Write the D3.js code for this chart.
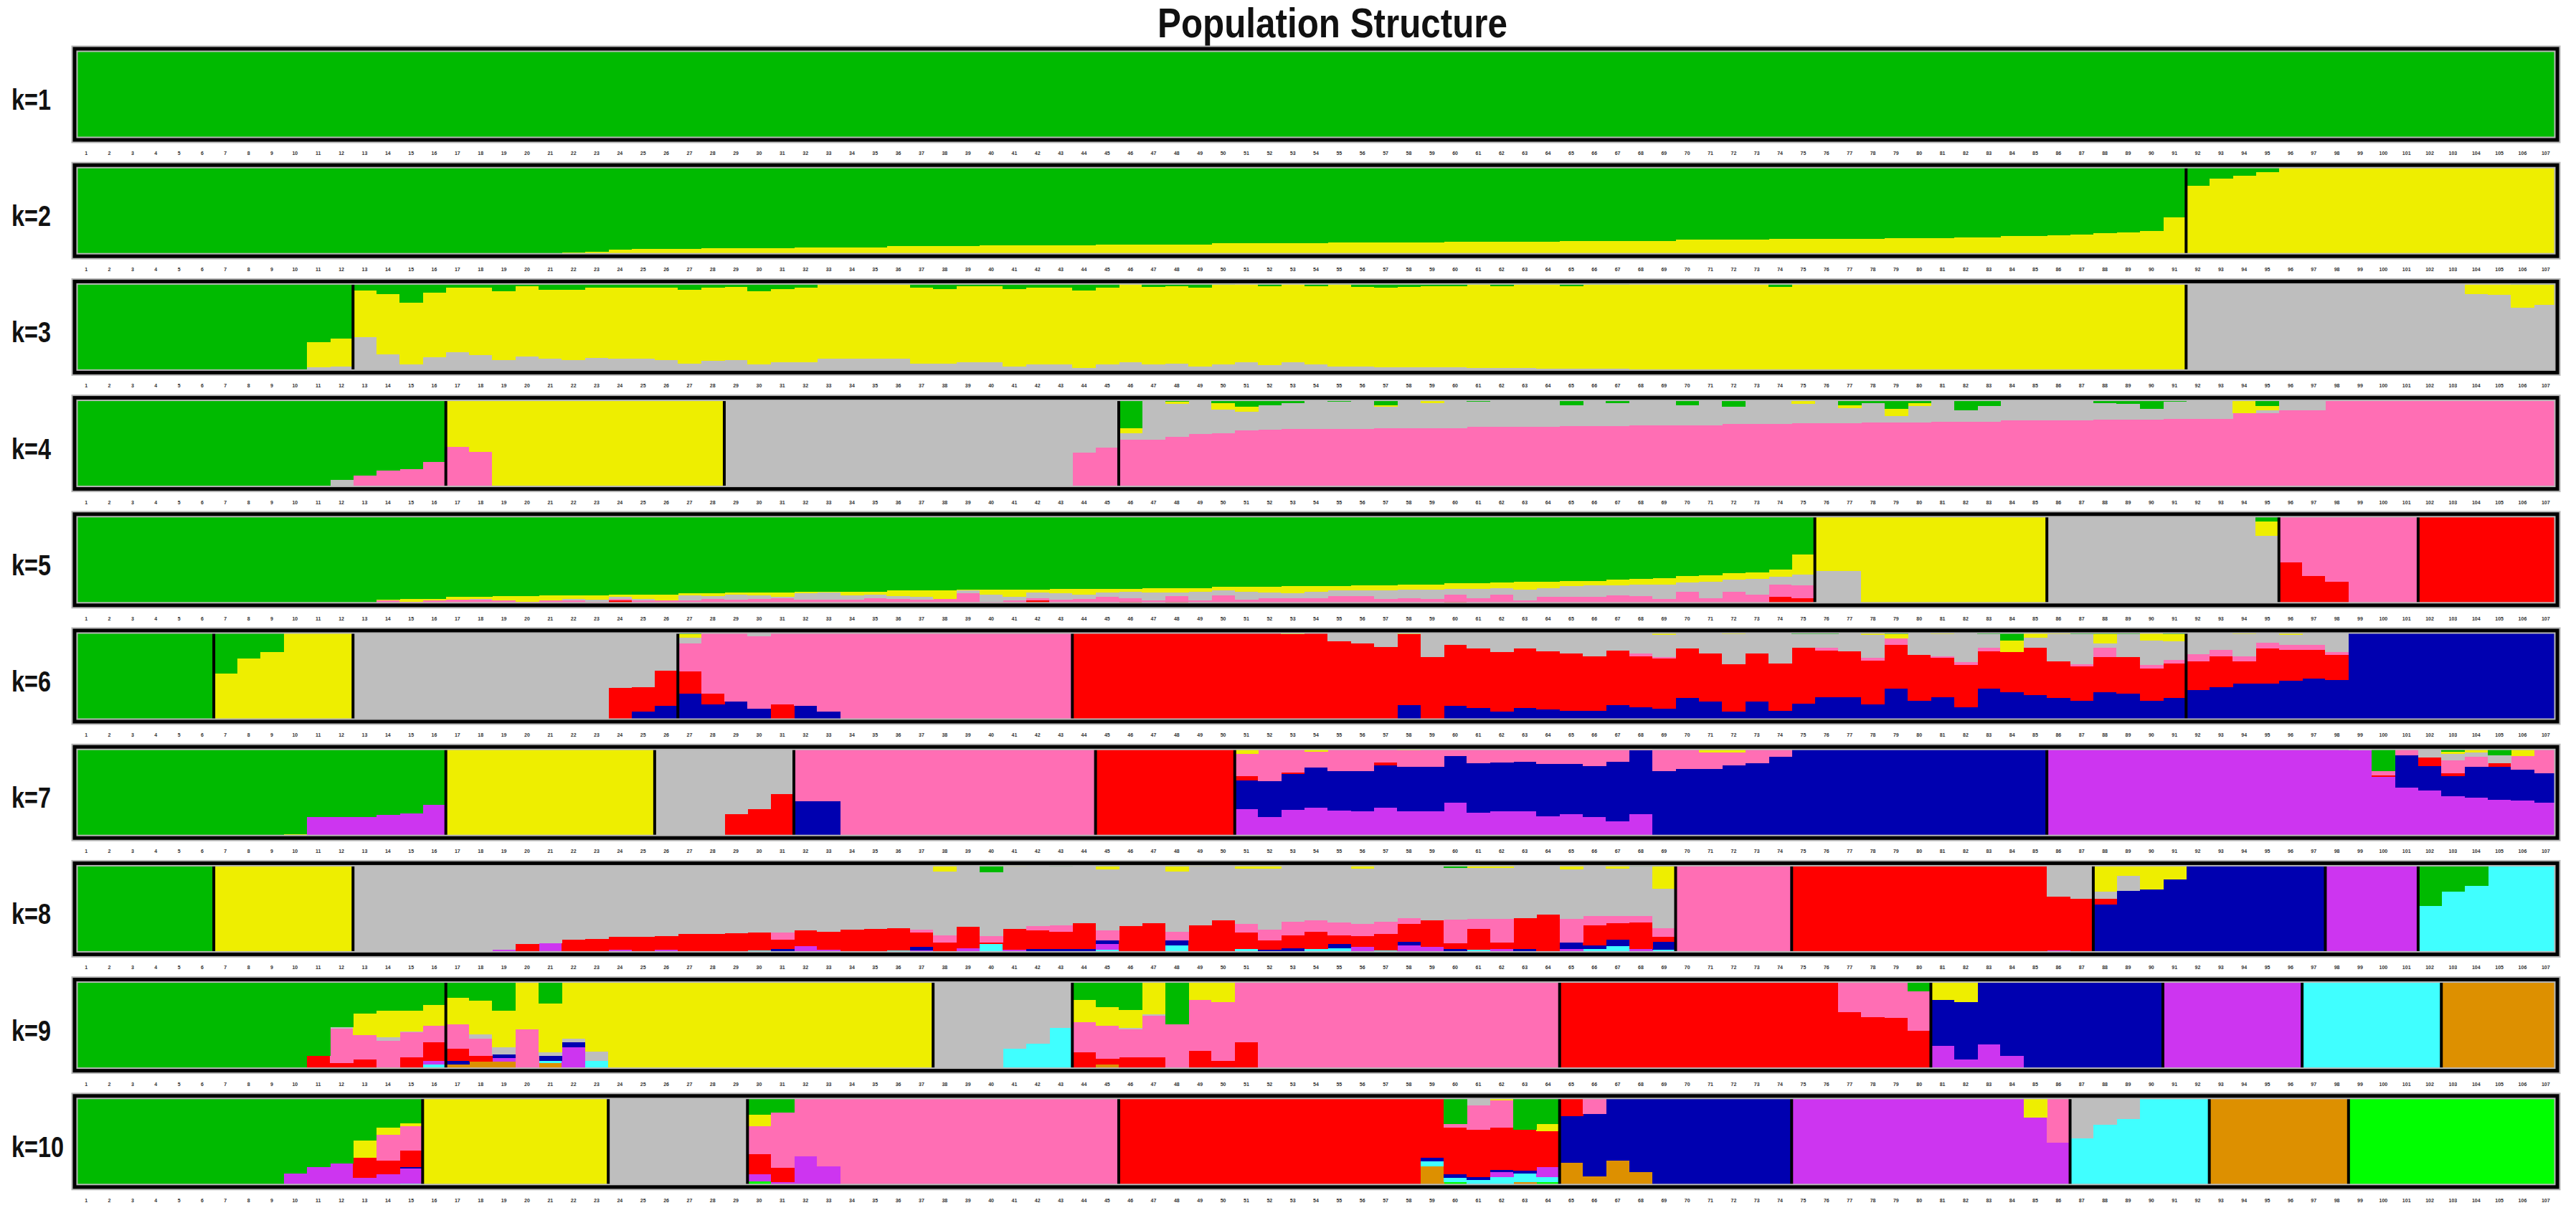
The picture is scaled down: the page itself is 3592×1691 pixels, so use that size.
<!DOCTYPE html>
<html>
<head>
<meta charset="utf-8">
<script src="https://cdn.jsdelivr.net/npm/d3@7"></script>
<style>
  body { margin: 0; background: #fff; }
  svg { display: block; }
  .klabel, .title { font-family: "Liberation Sans Narrow", "Arial Narrow", "Liberation Sans", Arial, sans-serif; font-weight: bold; fill: #111; }
  .sample { font-family: "Liberation Sans", Arial, sans-serif; fill: #333; }
</style>
</head>
<body>
<svg id="chart"></svg>
<script>
/////////////
// DATA    //
/////////////

// cluster codes, top of the stack first
let clusterKeys = ["G", "Y", "A", "P", "R", "B", "V", "C", "O", "L"];
let clusterColors = ["#00ba00", "#eeee00", "#bebebe", "#ff6eb4", "#ff0000", "#0000b0", "#cd35f0", "#40ffff", "#dd9000", "#00ff00"];
let kLabels = ["k=1", "k=2", "k=3", "k=4", "k=5", "k=6", "k=7", "k=8", "k=9", "k=10"];
let nSamples = 107;

// group sizes (black separators) per K
let groupsK1 = [107];
let groupsK2 = [91, 16];
let groupsK3 = [12, 79, 16];
let groupsK4 = [16, 12, 17, 62];
let groupsK5 = [75, 10, 10, 6, 6];
let groupsK6 = [6, 6, 14, 17, 48, 16];
let groupsK7 = [16, 9, 6, 13, 6, 35, 22];
let groupsK8 = [6, 6, 57, 5, 13, 10, 4, 6];
let groupsK9 = [16, 21, 6, 21, 16, 10, 6, 6, 5];
let groupsK10 = [15, 8, 6, 16, 19, 10, 12, 6, 6, 9];

// membership per individual: "n*X" = n pure individuals, "X,Y12" = Y 12%, rest X
let qK1 = ["107*G"];
let qK2 = ["17*G", "G,Y1", "G,Y1", "G,Y2", "G,Y3", "G,Y4", "G,Y5", "G,Y7", "G,Y8",
  "G,Y8", "G,Y8", "G,Y9", "G,Y9", "G,Y9", "G,Y9", "G,Y10", "G,Y10", "G,Y10", "G,Y10",
  "G,Y11", "G,Y11", "G,Y11", "G,Y11", "G,Y12", "G,Y12", "G,Y12", "G,Y12", "G,Y12", "G,Y13",
  "G,Y13", "G,Y13", "G,Y13", "G,Y13", "G,Y14", "G,Y14", "G,Y14", "G,Y14", "G,Y14", "G,Y15",
  "G,Y15", "G,Y15", "G,Y15", "G,Y15", "G,Y16", "G,Y16", "G,Y16", "G,Y16", "G,Y16", "G,Y17",
  "G,Y17", "G,Y17", "G,Y17", "G,Y17", "G,Y18", "G,Y18", "G,Y18", "G,Y18", "G,Y19", "G,Y19",
  "G,Y19", "G,Y19", "G,Y19", "G,Y20", "G,Y20", "G,Y20", "G,Y21", "G,Y21", "G,Y22", "G,Y22",
  "G,Y23", "G,Y24", "G,Y25", "G,Y26", "G,Y28", "G,Y43",
  "Y,G23", "Y,G15", "Y,G12", "Y,G8", "12*Y"];
let qK3 = ["10*G", "G,Y27,A6", "G,Y30,A7",
  "Y,G10,A39", "Y,G14,A20", "Y,G23,A9", "Y,G12,A17", "Y,G7,A22", "Y,G7,A19", "Y,G11,A14",
  "Y,G5,A18", "Y,G9,A15", "Y,G9,A14", "Y,G7,A16", "Y,G7,A15", "Y,G7,A15", "Y,G7,A14",
  "Y,G9,A10", "Y,G7,A13", "Y,G6,A14", "Y,G11,A9", "Y,G8,A11", "Y,G7,A11", "Y,G4,A15",
  "Y,G4,A15", "Y,G4,A15", "Y,G4,A15", "Y,G7,A10", "Y,G8,A10", "Y,G5,A11", "Y,G5,A11",
  "Y,G8,A7", "Y,G7,A9", "Y,G7,A9", "Y,G10,A5", "Y,G7,A9", "Y,G3,A11", "Y,G6,A9",
  "Y,G5,A10", "Y,G7,A7", "Y,G4,A9", "Y,G1,A11", "Y,G5,A8", "Y,G2,A11", "Y,G5,A9",
  "Y,G4,A7", "Y,G6,A7", "Y,G7,A6", "Y,G6,A6", "Y,G5,A6", "Y,G5,A6", "Y,G4,A5",
  "Y,G5,A5", "Y,G4,A5", "Y,G4,A4", "Y,G5,A4", "Y,G4,A4", "Y,G4,A4", "Y,G3,A3",
  "Y,G3,A3", "Y,G3,A3", "Y,G3,A3", "Y,G3,A3", "Y,G3,A2", "Y,G6,A1", "Y,G1,A1", "16*Y",
  "12*A", "A,Y14", "A,Y15", "A,G4,Y25", "A,G4,Y22"];
let qK4 = ["11*G", "G,A10", "G,P15", "G,P20", "G,P22", "G,P30",
  "Y,P46", "Y,P41", "10*Y",
  "15*A", "A,P40", "A,G2,P45",
  "A,G33,Y6,P54", "A,P54", "A,G4,Y3,P57", "A,P60", "A,G6,Y7,P61", "A,G10,Y5,P64",
  "A,G8,P65", "A,G6,P66", "A,P66", "A,G4,P66", "A,P66", "A,G8,Y2,P67", "A,P67",
  "A,G3,Y3,P67", "A,P67", "A,G4,P68", "A,P68", "A,Y3,P68", "A,P68", "A,G8,P69",
  "A,P69", "A,G6,P69", "A,P70", "A,P70", "A,G8,P70", "A,P70", "A,G10,P71", "A,P71",
  "A,P71", "A,G2,Y5,P72", "A,P72", "A,G8,Y3,P72", "A,G6,P73", "A,G12,Y8,P73",
  "A,G6,Y3,P73", "A,P74", "A,G14,P74", "A,G9,P74", "A,P75", "A,P75", "A,P75", "A,P75",
  "A,G6,P76", "A,G7,P76", "A,G12,P76", "A,G4,P77", "A,P77", "A,P77", "P,Y17",
  "P,G9,Y5,A3", "P,A14", "P,A14", "P,Y2", "P,Y2", "8*P"];
let qK5 = ["11*G", "G,P1", "G,P2,R1", "G,Y1,P4,R1", "G,Y3,P3,R1", "G,Y2,P5", "G,Y3,P6",
  "G,Y2,A1,P3,R3", "G,Y5,P5", "G,Y6,P4", "G,Y6,P4,R1", "G,Y4,A2,P3,R2", "G,Y5,A2,P4",
  "G,Y3,A2,P2,R5", "G,Y5,A2,P3,R2", "G,Y7,P5", "G,Y2,A6,P5", "G,Y3,A3,P6,R1",
  "G,Y2,A6,P4,R2", "G,Y3,A4,P4,R3", "G,Y5,A1,P8", "G,Y2,A7,P6", "G,Y1,A8,P6",
  "G,Y4,A5,P6", "G,Y3,A4,P5,R3", "G,Y6,A3,P4,R3", "G,Y7,A3,P5,R1", "G,Y9,P5,R2",
  "G,Y1,A3,P10,R3", "G,Y5,A8,P4", "G,Y8,A4,P3,R2", "G,Y3,A6,P3,R5", "G,Y5,A7,P6",
  "G,Y6,A5,P5,R2", "G,Y4,A5,P8,R1", "G,Y3,A7,P4,R4", "G,Y5,A9,P4,R1", "G,Y5,A4,P6,R4",
  "G,Y4,A10,P5", "G,Y4,A5,P9,R2", "G,Y5,A9,P5,R1", "G,Y6,A6,P5,R3", "G,Y8,A5,P6,R2",
  "G,Y6,A7,P5,R3", "G,Y5,A6,P8,R2", "G,Y6,A6,P7,R3", "G,Y6,A9,P5,R2", "G,Y6,A9,P6,R2",
  "G,Y6,A10,P5,R2", "G,Y6,A6,P8,R4", "G,Y6,A10,P6,R2", "G,Y6,A7,P9,R3", "G,Y9,A12,P4,R1",
  "G,Y7,A10,P7,R2", "G,Y6,A12,P7,R2", "G,Y5,A13,P6,R3", "G,Y6,A11,P8,R3", "G,Y6,A13,P7,R3",
  "G,Y7,A16,P5,R2", "G,Y7,A10,P13,R2", "G,Y7,A18,P6,R2", "G,Y7,A13,P12,R3",
  "G,Y7,A17,P10,R2", "G,Y8,A8,P14,R9", "G,Y22,A12,P14,R8",
  "Y,A38", "Y,A38", "8*Y",
  "9*A", "A,G8,Y16",
  "P,R47", "P,R32", "P,R26", "3*P",
  "6*R"];
let qK6 = ["6*G",
  "Y,G47", "Y,G31", "Y,G24", "3*Y",
  "11*A", "A,R37", "A,Y3,R27,B11", "A,R39,B17",
  "P,G4,Y4,A6,R24,B31", "P,G2,R12,B19", "P,B22", "P,A6,B14", "P,R19", "P,B17", "P,B11", "10*P",
  "9*R", "R,Y4", "R,Y3", "R,A12", "R,A14", "R,A18", "R,Y4,B18", "R,A29", "R,A16,B17",
  "R,G2,A18,B15", "R,A24,B11", "R,A20,B15", "R,A23,B13", "R,Y2,A23,B12", "R,A28,B12",
  "R,A22,B18", "R,A25,P3,B16", "R,Y5,A24,P2,B14", "R,A20,B26", "R,A25,B22",
  "R,Y4,A33,B11", "R,A25,B22", "R,A36,B12", "R,G4,A15,B20", "R,G4,A15,P3,B27",
  "R,A23,B27", "R,G2,Y3,A25,P3,B19", "R,G4,Y5,P7,B36", "R,A27,B23", "R,Y4,A24,P2,B27",
  "R,A35,P3,B16", "R,G4,A15,P4,B36", "R,G11,Y13,B32", "R,Y8,A11,B29", "R,Y4,A30,B26",
  "R,G4,A33,P2,B23", "R,G4,Y10,A5,P10,B32", "R,G4,A25,B31", "R,Y11,A27,P4,B23",
  "R,G4,Y8,A20,P4,B26",
  "B,Y3,A23,P8,R31", "B,A21,P7,R34", "B,Y4,A24,P6,R24", "B,A13,P7,R38",
  "B,Y5,A11,P5,R34", "B,G2,A14,P5,R32", "B,Y3,A21,P3,R27", "9*B"];
let qK7 = ["9*G", "G,Y4", "G,V23", "G,V23", "G,V23", "G,V25", "G,V27", "G,V36",
  "9*Y",
  "3*A", "A,R26", "A,R32", "A,R48",
  "P,G2,B40", "P,B40", "11*P",
  "6*R",
  "B,G1,Y7,P24,R5,V32", "B,P38,V23", "B,G1,P27,R2,V31", "B,Y5,P18,V33", "B,P27,V30",
  "B,P27,V29", "B,Y2,P15,R3,V33", "B,Y4,P18,V29", "B,P22,V29", "B,P10,V39",
  "B,Y2,P16,V28", "B,Y3,P14,V29", "B,Y3,P13,V29", "B,G1,P18,V24", "B,P19,V26",
  "B,A3,P18,V23", "B,P16,V18", "B,P4,V26", "B,P27", "B,P24", "B,Y6,P18", "B,Y6,P14",
  "B,P18", "B,P11", "B,P2", "10*B",
  "13*V", "V,A4", "V,G27,P4,R2", "V,P9,B36", "V,A12,R9,B27", "V,G5,Y3,A7,P14,R3,B22",
  "V,Y6,A5,P11,B34", "V,G9,A9,R4,B36", "V,Y10,P15,B34", "V,G2,P27,B32"];
let qK8 = ["6*G", "6*Y",
  "6*A", "A,V5", "A,R11", "A,V12", "A,R13,V3", "A,R17", "A,R14,V5", "A,R19", "A,R15,V5",
  "A,R22", "A,R22", "A,R23", "A,R20,C4", "A,G3,P8,R10,B6", "A,R17,V9", "A,R20,V5",
  "A,R27", "A,R28", "A,R25,C4", "A,P3,R16,B4,V4", "A,G1,Y8,P8,R10,V3", "A,R23,V7",
  "A,G10,P7,R2,C11", "A,Y4,R23,V5", "A,P5,R20,B6", "A,G4,P7,R19,B6", "A,R28,B6",
  "A,G4,Y3,P11,B4,V6,C5", "A,R31", "A,R34", "A,G4,Y5,P10,B5,C10", "A,Y4,R32", "A,R37",
  "A,G3,Y3,P9,R18,C6", "A,Y6,P12,R10,B5", "A,G3,P15,R14,B7", "A,Y3,P12,R19,C6",
  "A,Y3,P14,R10,B4,C7", "A,Y6,P13,R12,V5,C3", "A,Y3,P14,R18,C4", "A,P7,R19,B4,V7,C3",
  "A,R29,V5,C3", "A,G5,P26,R6,B6", "A,Y5,P11,R23,C5", "A,Y5,P26,R7,V6", "A,G3,R34,B6",
  "A,R44", "A,Y7,P26,B7,V6", "A,P10,R22,B4,C6", "A,G3,Y3,P8,R18,B7,C9", "A,G4,P7,R29,V6",
  "A,G4,Y24,P10,R5,B9,C5",
  "5*P",
  "11*R", "R,A37,V4", "R,A39,C3",
  "B,Y31,A8,R6", "B,Y14,A16", "B,Y29", "B,Y18", "6*B",
  "4*V",
  "C,G47", "C,G31", "C,G25", "3*C"];
let qK9 = ["10*G", "G,R16", "G,A2,P38,R8", "G,Y24,P27,R12", "G,Y29,A4,P29,O4",
  "G,Y23,A1,P27,R12,O3", "G,Y23,P18,R20,V4,C3,O4",
  "Y,G20,P27,R13,B4,O7", "Y,G23,A5,P19,R6,O10", "Y,G34,A8,B4,V4,O10", "Y,P45",
  "Y,G26,A4,B5,C3,O8", "Y,A4,B5,V23,C3", "Y,A10,C11", "14*Y",
  "3*A", "A,C24", "A,C30", "A,C47",
  "P,G22,Y25,R20", "P,G30,Y21,R6,O7", "P,G33,Y20,A2,R15", "P,Y38,A2,R15", "P,G49",
  "P,Y22,R22", "P,Y25,R7,B4", "P,R31", "13*P",
  "12*R", "R,P36", "R,P41", "R,P42", "R,G13,P43,O3",
  "B,Y22,V27", "B,Y25,V12", "B,V29", "B,V16", "6*B",
  "6*V", "6*C", "5*O"];
let qK10 = ["9*G", "G,V15", "G,V22", "G,V26", "G,Y19,R22,V10", "G,Y8,P28,R15,V14",
  "G,Y3,P27,R18,B2,V16,C4",
  "8*Y", "6*A",
  "P,G21,Y12,R22,V8,L6", "P,G18,R16,V5", "P,V34", "P,V23", "12*P",
  "13*R", "R,A3,B4,C5,O23", "R,G31,P4,B4,C5,L5", "R,A10,P27,B3,C8",
  "R,Y5,P30,B3,V5,C8,L3", "R,G37,B3,C10,O5", "R,G31,Y8,V11,C6,L5",
  "B,R22,O27", "B,P20,O12", "B,O29", "B,O16", "6*B",
  "10*V", "V,Y24", "V,P51",
  "C,A47", "C,A32", "C,A25", "3*C",
  "6*O", "9*L"];

let qAll = [qK1, qK2, qK3, qK4, qK5, qK6, qK7, qK8, qK9, qK10];
let groupsAll = [groupsK1, groupsK2, groupsK3, groupsK4, groupsK5, groupsK6, groupsK7, groupsK8, groupsK9, groupsK10];

/////////////
// LAYOUT  //
/////////////

let width = 3592, height = 1691;
let plotLeft = 104, plotRight = 3566;
let firstTop = 68, panelStep = 162.2, panelH = 127;

let svg, x;

init();

function parseRow(tok, keys) {
  let row = {};
  keys.forEach(k => row[k] = 0);
  let rest = null, sum = 0;
  tok.split(",").forEach(p => {
    let m = /^([A-Z])(\d*)$/.exec(p);
    if (m[2] === "") {
      rest = m[1];
    } else {
      row[m[1]] += +m[2] / 100;
      sum += +m[2] / 100;
    }
  });
  if (rest) row[rest] = Math.max(0, 1 - sum);
  return row;
}

function expand(tokens, keys) {
  let rows = [];
  for (let t of tokens) {
    let m = /^(\d+)\*([A-Z])$/.exec(t);
    if (m) {
      for (let i = 0; i < +m[1]; i++) rows.push(parseRow(m[2], keys));
    } else {
      rows.push(parseRow(t, keys));
    }
  }
  return rows;
}

function init() {
  svg = d3.select("#chart")
    .attr("width", width)
    .attr("height", height)
    ;

  svg.append("rect")
    .attr("width", width)
    .attr("height", height)
    .attr("fill", "#fff")
    ;

  let color = d3.scaleOrdinal().domain(clusterKeys).range(clusterColors);

  x = d3.scaleBand()
    .domain(d3.range(nSamples))
    .range([plotLeft, plotRight])
    .paddingInner(0)
    .paddingOuter(0)
    ;

  svg.append("text")
    .classed("title", true)
    .attr("x", 1858)
    .attr("y", 52)
    .attr("text-anchor", "middle")
    .attr("font-size", 58)
    .attr("textLength", 488)
    .attr("lengthAdjust", "spacingAndGlyphs")
    .text("Population Structure")
    ;

  qAll.forEach((tokens, ki) => {
    let K = ki + 1;
    let keys = clusterKeys.slice(0, K);
    let rows = expand(tokens, keys);
    let top = firstTop + ki * panelStep;
    let bottom = top + panelH;

    let y = d3.scaleLinear().domain([0, 1]).range([bottom, top]);

    // last cluster sits at the bottom of each bar
    let series = d3.stack().keys(keys.slice().reverse())(rows);

    let g = svg.append("g").classed("panel", true);

    g.append("text")
      .classed("klabel", true)
      .attr("x", 16)
      .attr("y", top + 85)
      .attr("font-size", 40)
      .attr("textLength", kLabels[ki].length > 3 ? 73 : 55)
      .attr("lengthAdjust", "spacingAndGlyphs")
      .text(kLabels[ki])
      ;

    g.selectAll("g.layer")
      .data(series)
      .enter()
      .append("g")
      .classed("layer", true)
      .attr("fill", d => color(d.key))
      .selectAll("rect")
      .data(d => d)
      .enter()
      .filter(d => d[1] - d[0] > 0.0001)
      .append("rect")
      .attr("x", d => x(rows.indexOf(d.data)))
      .attr("width", x.bandwidth() + 0.6)
      .attr("y", d => y(Math.min(1, d[1])))
      .attr("height", d => Math.max(0, y(d[0]) - y(Math.min(1, d[1]))))
      .attr("shape-rendering", "crispEdges")
      ;

    // group separators
    let cuts = d3.cumsum(groupsAll[ki]).slice(0, -1);
    g.selectAll("line.sep")
      .data(cuts)
      .enter()
      .append("line")
      .classed("sep", true)
      .attr("x1", d => x(d))
      .attr("x2", d => x(d))
      .attr("y1", top)
      .attr("y2", bottom)
      .attr("stroke", "#000")
      .attr("stroke-width", 4)
      ;

    // frame
    g.append("rect")
      .attr("x", plotLeft)
      .attr("y", top)
      .attr("width", plotRight - plotLeft)
      .attr("height", panelH)
      .attr("fill", "none")
      .attr("stroke", "#b8b8b8")
      .attr("stroke-width", 9)
      ;
    g.append("rect")
      .attr("x", plotLeft)
      .attr("y", top)
      .attr("width", plotRight - plotLeft)
      .attr("height", panelH)
      .attr("fill", "none")
      .attr("stroke", "#000")
      .attr("stroke-width", 5)
      ;

    // sample labels (tiny, as in the original)
    g.selectAll("text.sample")
      .data(d3.range(nSamples))
      .enter()
      .append("text")
      .classed("sample", true)
      .attr("x", d => x(d) + x.bandwidth() / 2)
      .attr("y", bottom + 21)
      .attr("text-anchor", "middle")
      .attr("font-size", 7)
      .attr("font-weight", "bold")
      .text(d => d + 1)
      ;
  });
}
</script>
</body>
</html>
